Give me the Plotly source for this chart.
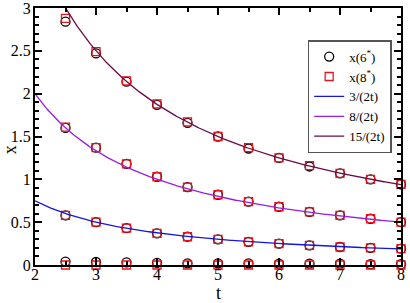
import numpy as np
import plotly.graph_objects as go

t_pts = [2.5, 3, 3.5, 4, 4.5, 5, 5.5, 6, 6.5, 7, 7.5, 8]
circ_top = [2.84, 2.47, 2.14, 1.87, 1.66, 1.50, 1.36, 1.25, 1.15, 1.07, 1.00, 0.94]
circ_mid = [1.60, 1.37, 1.18, 1.03, 0.91, 0.82, 0.74, 0.68, 0.62, 0.58, 0.54, 0.50]
circ_low = [0.58, 0.50, 0.43, 0.37, 0.33, 0.30, 0.27, 0.25, 0.23, 0.21, 0.20, 0.19]
circ_zero = [0.04, 0.035, 0.03, 0.025, 0.02, 0.02, 0.02, 0.015, 0.015, 0.015, 0.01, 0.01]
sq_top = [2.88, 2.49, 2.15, 1.88, 1.67, 1.50, 1.37, 1.25, 1.16, 1.07, 1.00, 0.94]
sq_mid = [1.61, 1.37, 1.18, 1.03, 0.91, 0.82, 0.74, 0.68, 0.62, 0.58, 0.54, 0.50]
sq_low = [0.58, 0.50, 0.43, 0.37, 0.33, 0.30, 0.27, 0.25, 0.23, 0.21, 0.20, 0.19]
sq_zero = [0.0, 0.0, 0.0, 0.0, 0.0, 0.0, 0.0, 0.0, 0.0, 0.0, 0.0, 0.0]
numerators = [3, 8, 15]
curve_names = ["3/(2t)", "8/(2t)", "15/(2t)"]
curve_colors = ["#1515e0", "#9a1de0", "#6b0a48"]
x_title = "t"
y_title = "x"

font = "Liberation Serif"
fig = go.Figure()

def stack(*lists):
    xs, ys = [], []
    for l in lists:
        xs += t_pts + [None]
        ys += l + [None]
    return xs, ys

cx, cy = stack(circ_zero, circ_low, circ_mid, circ_top)
sx, sy = stack(sq_zero, sq_low, sq_mid, sq_top)
fig.add_trace(go.Scatter(x=cx, y=cy, mode="markers", name="x(6<sup>*</sup>)", cliponaxis=False,
                         marker=dict(symbol="circle-open", size=9, color="black", line=dict(width=1.3))))
fig.add_trace(go.Scatter(x=sx, y=sy, mode="markers", name="x(8<sup>*</sup>)", cliponaxis=False,
                         marker=dict(symbol="square-open", size=8, color="#e8141c", line=dict(width=1.3))))

tt = np.linspace(2, 8, 300)
for n, nm, c in zip(numerators, curve_names, curve_colors):
    fig.add_trace(go.Scatter(x=tt, y=n / (2 * tt), mode="lines", name=nm,
                             line=dict(color=c, width=1.3)))

axis_common = dict(showline=True, linecolor="black", linewidth=2, mirror="allticks",
                   ticks="inside", ticklen=7, tickwidth=1.5, tickcolor="black",
                   showgrid=False, zeroline=False, automargin=False,
                   ticklabeloverflow="allow",
                   tickfont=dict(family=font, size=16, color="black"))
fig.update_xaxes(range=[2, 8], dtick=1, tick0=2, ticklabelstandoff=-6,
                 minor=dict(ticks="inside", ticklen=4, dtick=0.5, tickcolor="black", tickwidth=1.5),
                 **axis_common)
fig.update_yaxes(range=[0, 3], dtick=0.5, tick0=0, ticklabelstandoff=-1,
                 minor=dict(ticks="inside", ticklen=4, dtick=0.1, tickcolor="black", tickwidth=1.5),
                 **axis_common)

fig.add_annotation(text=x_title, x=0.5, y=-0.11, xref="paper", yref="paper",
                   showarrow=False, xanchor="center", yanchor="middle",
                   font=dict(family=font, size=18, color="black"))
fig.add_annotation(text=y_title, x=-0.066, y=0.45, xref="paper", yref="paper",
                   showarrow=False, xanchor="center", yanchor="middle", textangle=-90,
                   font=dict(family=font, size=18, color="black"))

fig.update_layout(width=410, height=303, margin=dict(l=35, r=9, t=8, b=38),
                  plot_bgcolor="white", paper_bgcolor="white",
                  showlegend=True,
                  legend=dict(x=0.745, y=0.875, xanchor="left", yanchor="top",
                              bgcolor="white", bordercolor="#555", borderwidth=1.5,
                              font=dict(family=font, size=13, color="black"),
                              itemwidth=30, tracegroupgap=0))
fig.write_html("out.html")
